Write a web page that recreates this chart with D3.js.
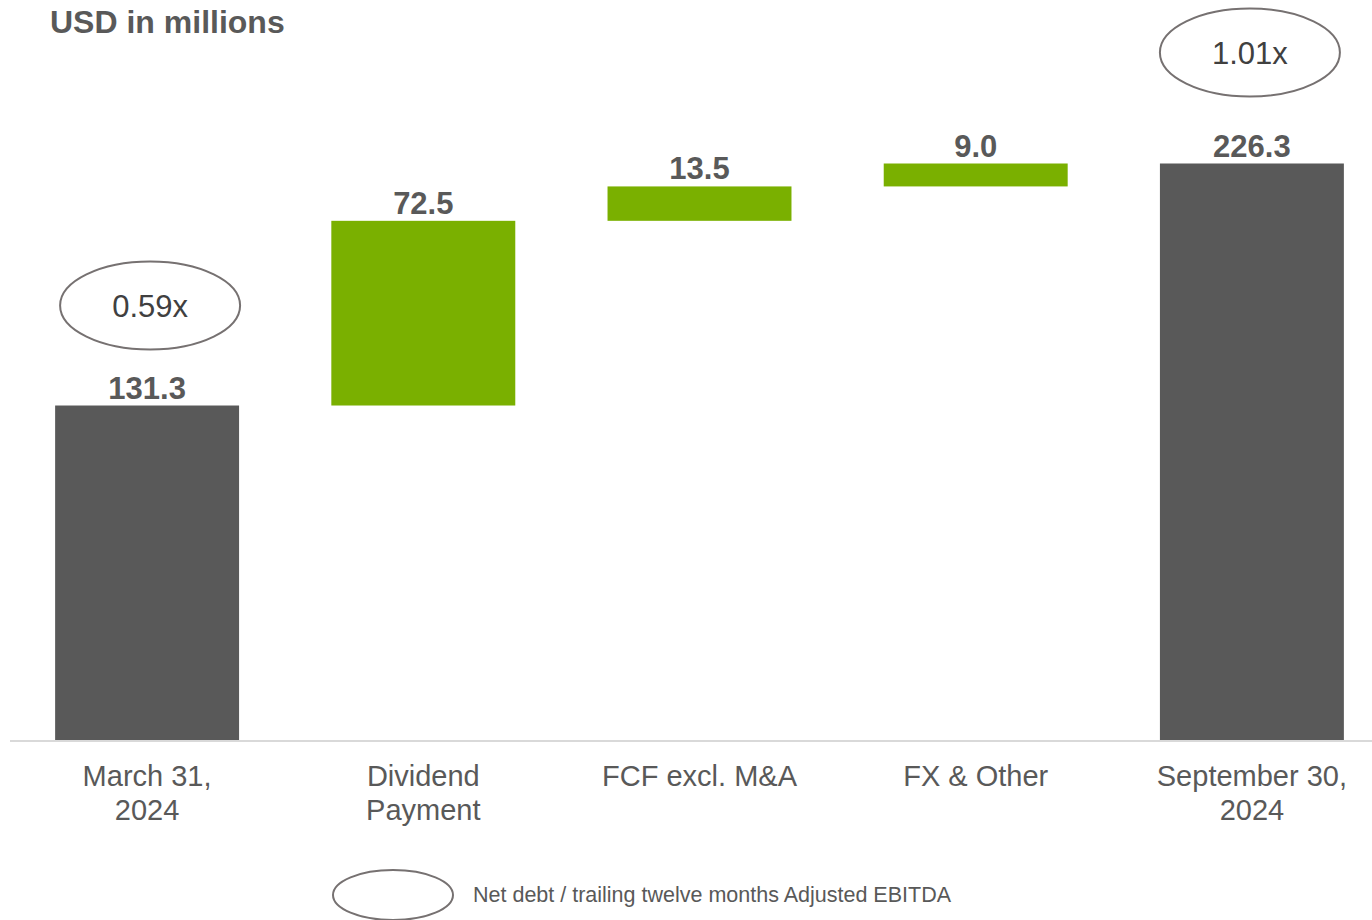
<!DOCTYPE html>
<html>
<head>
<meta charset="utf-8">
<script src="https://cdn.jsdelivr.net/npm/d3@7"></script>
<style>
    body { margin: 0; background: #fff; }
    svg { display: block; font-family: "Liberation Sans", Arial, sans-serif; }
</style>
</head>
<body>
<div id="chart"></div>
<script>
// chart data
const categories = ["March 31, 2024", "Dividend Payment", "FCF excl. M&A", "FX & Other", "September 30, 2024"];
const labelLines = [["March 31,", "2024"], ["Dividend", "Payment"], ["FCF excl. M&A"], ["FX & Other"], ["September 30,", "2024"]];
const values = [131.3, 72.5, 13.5, 9.0, 226.3];
const isTotal = [true, false, false, false, true];
const ratios = [{ idx: 0, text: "0.59x", lift: 100, dx: 3 }, { idx: 4, text: "1.01x", lift: 111, dx: -2 }];
const legendText = "Net debt / trailing twelve months Adjusted EBITDA";

const w = 1372; // chart width
const h = 920;  // chart height
const baseY = 740;

const darkGrey = "#595959";
const green = "#7ab000";

// build waterfall start / end
var running = 0;
const steps = values.map(function (v, i) {
    var s;
    if (isTotal[i]) {
        s = { start: 0, end: v };
        running = v;
    } else {
        s = { start: running, end: running + v };
        running += v;
    }
    return s;
});

const x = d3.scaleBand()
    .domain(categories)
    .range([9, 1390])
    .paddingInner(0.334)
    .paddingOuter(0.167);

const y = d3.scaleLinear()
    .domain([0, 226.3])
    .range([baseY, 163.5]);

const svg = d3.select("#chart")
    .append("svg")
    .attr("width", w)
    .attr("height", h);

// title
svg.append("text")
    .attr("x", 50)
    .attr("y", 33)
    .attr("font-size", 32)
    .attr("font-weight", "bold")
    .attr("fill", darkGrey)
    .text("USD in millions");

// bars
svg.selectAll("rect.bar")
    .data(categories)
    .enter()
    .append("rect")
    .attr("class", "bar")
    .attr("x", function (d) { return x(d); })
    .attr("width", x.bandwidth())
    .attr("y", function (d, i) { return y(steps[i].end); })
    .attr("height", function (d, i) { return y(steps[i].start) - y(steps[i].end); })
    .attr("fill", function (d, i) { return isTotal[i] ? darkGrey : green; });

// value labels
svg.selectAll("text.val")
    .data(categories)
    .enter()
    .append("text")
    .attr("class", "val")
    .attr("x", function (d) { return x(d) + x.bandwidth() / 2; })
    .attr("y", function (d, i) { return y(steps[i].end) - 7; })
    .attr("text-anchor", "middle")
    .attr("font-size", 31)
    .attr("font-weight", "bold")
    .attr("fill", darkGrey)
    .text(function (d, i) { return values[i].toFixed(1); });

// axis line
svg.append("line")
    .attr("x1", 10)
    .attr("x2", w)
    .attr("y1", baseY + 1)
    .attr("y2", baseY + 1)
    .attr("stroke", "#d9d9d9")
    .attr("stroke-width", 2);

// category labels
const catG = svg.selectAll("text.cat")
    .data(categories)
    .enter()
    .append("text")
    .attr("class", "cat")
    .attr("x", function (d) { return x(d) + x.bandwidth() / 2; })
    .attr("y", 786)
    .attr("text-anchor", "middle")
    .attr("font-size", 29)
    .attr("fill", darkGrey);

catG.each(function (d, i) {
    var t = d3.select(this);
    labelLines[i].forEach(function (line, j) {
        t.append("tspan")
            .attr("x", x(d) + x.bandwidth() / 2)
            .attr("dy", j == 0 ? 0 : 34)
            .text(line);
    });
});

// ratio ellipses
ratios.forEach(function (r) {
    var cx = x(categories[r.idx]) + x.bandwidth() / 2 + r.dx;
    var cy = y(steps[r.idx].end) - r.lift;
    svg.append("ellipse")
        .attr("cx", cx)
        .attr("cy", cy)
        .attr("rx", 90)
        .attr("ry", 44)
        .attr("fill", "none")
        .attr("stroke", "#767171")
        .attr("stroke-width", 2);
    svg.append("text")
        .attr("x", cx)
        .attr("y", cy + 11)
        .attr("text-anchor", "middle")
        .attr("font-size", 31)
        .attr("fill", "#404040")
        .text(r.text);
});

// legend
svg.append("ellipse")
    .attr("cx", 393)
    .attr("cy", 895)
    .attr("rx", 60)
    .attr("ry", 25)
    .attr("fill", "none")
    .attr("stroke", "#767171")
    .attr("stroke-width", 2);

svg.append("text")
    .attr("x", 473)
    .attr("y", 902)
    .attr("font-size", 21.5)
    .attr("fill", darkGrey)
    .text(legendText);
</script>
</body>
</html>
